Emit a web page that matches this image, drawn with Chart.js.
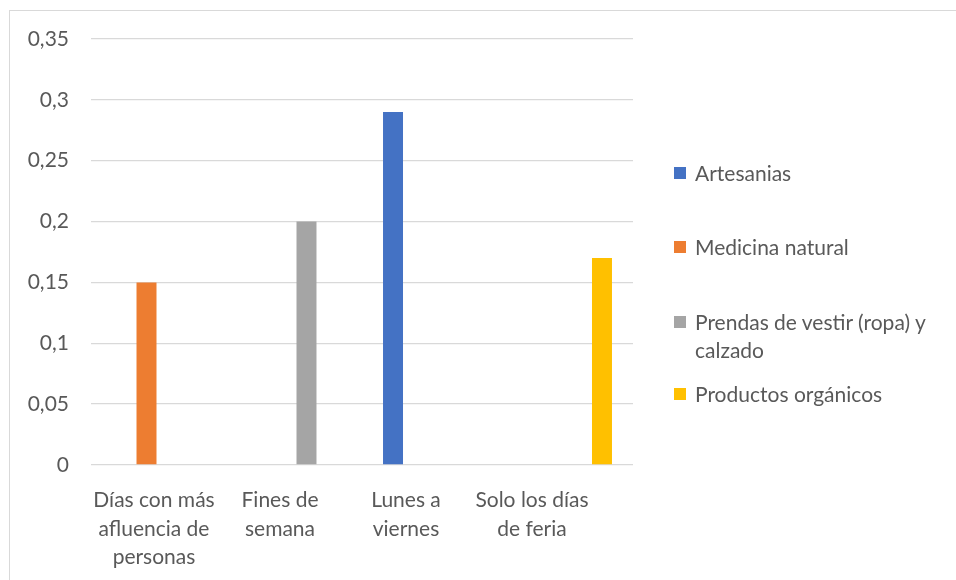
<!DOCTYPE html>
<html>
<head>
<meta charset="utf-8">
<script src="https://cdn.jsdelivr.net/npm/chart.js@4"></script>
<style>
  html, body { margin: 0; padding: 0; background: #fff; }
  #wrap { position: relative; width: 956px; height: 580px; overflow: hidden; background: #fff; }
  #frame { position: absolute; left: 9px; top: 10px; width: 960px; height: 600px;
           border-top: 1px solid #d9d9d9; border-left: 1px solid #d9d9d9; pointer-events: none; }
  canvas { position: absolute; left: 0; top: 0; }
  .leg { position: absolute; left: 674px; font-family: Lato, "Liberation Sans", sans-serif;
         font-size: 21px; line-height: 28px; color: #595959; white-space: nowrap; }
  .leg .sw { position: absolute; left: 0; top: 8px; width: 12px; height: 12px; }
  .leg .tx { position: absolute; left: 21px; top: 0; }
</style>
</head>
<body>
<div id="wrap">
  <canvas id="c" width="956" height="580"></canvas>
  <div id="frame"></div>
  <div id="legend"></div>
</div>
<script>
// ---- data ----
const categories = [
  ["Días con más", "afluencia de", "personas"],
  ["Fines de", "semana"],
  ["Lunes a", "viernes"],
  ["Solo los días", "de feria"]
];
const seriesNames = ["Artesanias", "Medicina natural", "Prendas de vestir (ropa) y calzado", "Productos orgánicos"];
const legendLines = [["Artesanias"], ["Medicina natural"], ["Prendas de vestir (ropa) y", "calzado"], ["Productos orgánicos"]];
const artesanias = [0, 0, 0.29, 0];
const medicinaNatural = [0.15, 0, 0, 0];
const prendas = [0, 0.2, 0, 0];
const productosOrganicos = [0, 0, 0, 0.17];
const yTicks = [0, 0.05, 0.1, 0.15, 0.2, 0.25, 0.3, 0.35];
const colors = ["#4472C4", "#ED7D31", "#A5A5A5", "#FFC000"];

const seriesValues = [artesanias, medicinaNatural, prendas, productosOrganicos];

const fontFamily = "Lato, 'Liberation Sans', sans-serif";
const textColor = "#595959";

const chart = new Chart(document.getElementById("c"), {
  type: "bar",
  data: {
    labels: categories.map(c => c.join(" ")),
    datasets: seriesNames.map((n, i) => ({
      label: n,
      data: seriesValues[i],
      backgroundColor: colors[i],
      borderWidth: 0,
      categoryPercentage: 0.723,
      barPercentage: 0.816,
      xAxisID: "x",
      yAxisID: "y"
    }))
  },
  options: {
    responsive: false,
    animation: false,
    devicePixelRatio: 1,
    layout: { padding: { left: 0, top: 39, right: 323, bottom: 0 } },
    plugins: { legend: { display: false }, tooltip: { enabled: false } },
    scales: {
      x: {
        type: "category",
        display: false,
        grid: { display: false }
      },
      xl: {
        type: "linear",
        position: "bottom",
        offset: false,
        bounds: "data",
        min: 0,
        max: 542 / 126,
        afterBuildTicks: (scale) => { scale.ticks = categories.map((c, i) => ({ value: i + 0.5 })); },
        afterFit: (scale) => { scale.height = 115; },
        grid: { display: false, drawTicks: false, offset: false },
        border: { display: false },
        ticks: {
          autoSkip: false,
          maxRotation: 0,
          minRotation: 0,
          padding: 21,
          color: textColor,
          font: { family: fontFamily, size: 21, lineHeight: 1.36 },
          callback: (v, i) => categories[i]
        }
      },
      y: {
        min: 0,
        max: 0.35,
        afterFit: (scale) => { scale.width = 91; },
        afterBuildTicks: (scale) => { scale.ticks = yTicks.map(v => ({ value: v })); },
        grid: { color: "#d9d9d9", lineWidth: 1.3, drawTicks: false },
        border: { display: false },
        ticks: {
          padding: 22,
          color: textColor,
          font: { family: fontFamily, size: 21 },
          callback: (v) => String(+v.toFixed(2)).replace(".", ",")
        }
      }
    }
  }
});

// ---- legend (real text) ----
const legTops = [159, 233, 308, 380];
const legEl = document.getElementById("legend");
legendLines.forEach((lines, i) => {
  const d = document.createElement("div");
  d.className = "leg";
  d.style.top = legTops[i] + "px";
  d.innerHTML = '<span class="sw" style="background:' + colors[i] + '"></span><span class="tx">' + lines.join("<br>") + '</span>';
  legEl.appendChild(d);
});
</script>
</body>
</html>
